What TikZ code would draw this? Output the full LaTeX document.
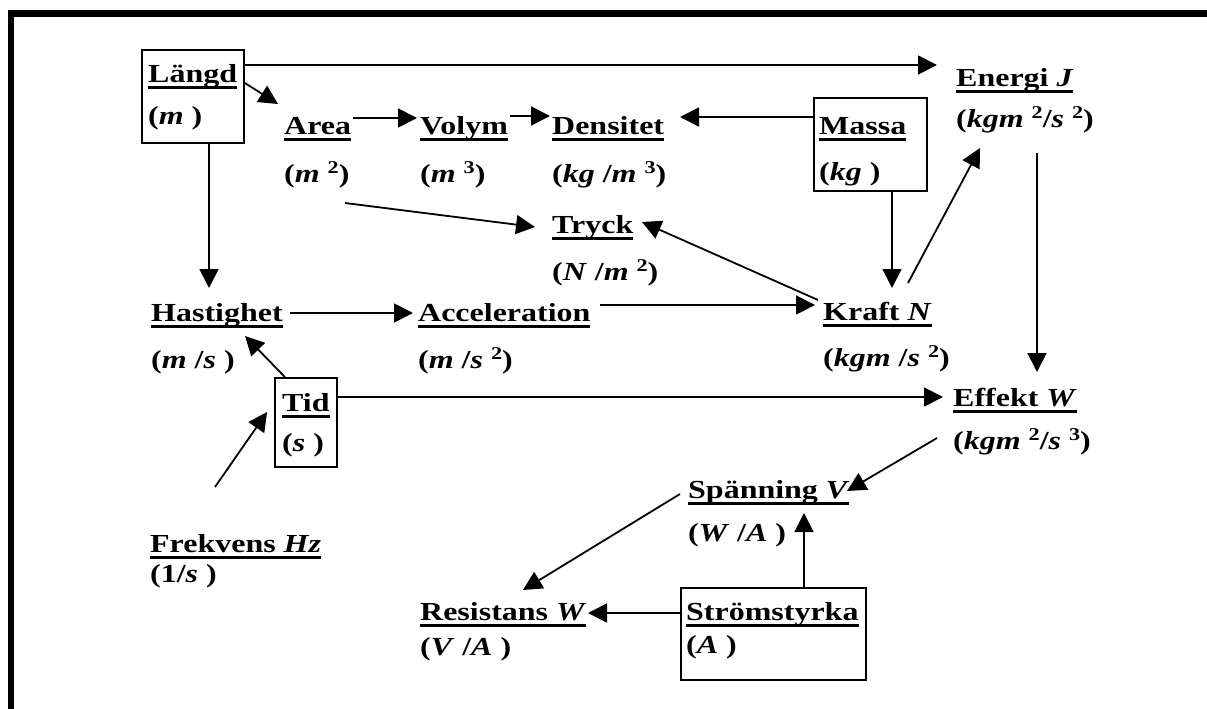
\documentclass[tikz,border=0pt]{standalone}
\usepackage{fontspec}
\setmainfont{Liberation Serif}[FakeStretch=1.23]
\usetikzlibrary{arrows.meta}
\newcommand\uln[1]{\setbox0\hbox{#1}\rlap{\rule[-6.5pt]{\wd0}{3pt}}\box0}
\newcommand\supx[1]{\raisebox{8.5pt}{\fontsize{18}{18}\selectfont #1}}
\begin{document}
\begin{tikzpicture}[x=1pt,y=-1pt,
  txt/.style={anchor=base west, inner sep=0pt, font=\fontsize{26}{30}\selectfont\bfseries},
  boxst/.style={draw, line width=1.8pt, inner sep=0pt},
  arr/.style={line width=1.8pt, -{Triangle[length=19pt,width=19pt]}}]
\useasboundingbox (0,0) rectangle (1207,709);
% border
\fill (8,10) rectangle (1207,17);
\fill (8,10) rectangle (13.5,709);
% boxes
\node[boxst, minimum width=102pt, minimum height=93pt] (langdbox) at (193,96.5) {};
\node[boxst, minimum width=113pt, minimum height=93pt] (massabox) at (870.5,144.5) {};
\node[boxst, minimum width=62pt, minimum height=89pt] (tidbox) at (306,422.5) {};
\node[boxst, minimum width=185pt, minimum height=92pt] (strombox) at (773.5,634) {};
% texts
\node[txt] (langd) at (148,82) {\uln{Längd}};
\node[txt] (langdU) at (148,124) {(\textit{m} )};
\node[txt] (area) at (284,134) {\uln{Area}};
\node[txt] (areaU) at (284,182) {(\textit{m} \supx{2})};
\node[txt] (volym) at (420,134) {\uln{Volym}};
\node[txt] (volymU) at (420,182) {(\textit{m} \supx{3})};
\node[txt] (densitet) at (552,134) {\uln{Densitet}};
\node[txt] (densitetU) at (552,182) {(\textit{kg} /\textit{m} \supx{3})};
\node[txt] (massa) at (819,134) {\uln{Massa}};
\node[txt] (massaU) at (819,180) {(\textit{kg} )};
\node[txt] (energi) at (956,86) {\uln{Energi \textit{J}}};
\node[txt] (energiU) at (956,127) {(\textit{kgm} \supx{2}/\textit{s} \supx{2})};
\node[txt] (tryck) at (552,233) {\uln{Tryck}};
\node[txt] (tryckU) at (552,280) {(\textit{N} /\textit{m} \supx{2})};
\node[txt] (hast) at (151,321) {\uln{Hastighet}};
\node[txt] (hastU) at (151,368) {(\textit{m} /\textit{s} )};
\node[txt] (acc) at (418,321) {\uln{Acceleration}};
\node[txt] (accU) at (418,368) {(\textit{m} /\textit{s} \supx{2})};
\node[txt] (kraft) at (823,320) {\uln{Kraft \textit{N}}};
\node[txt] (kraftU) at (823,366) {(\textit{kgm} /\textit{s} \supx{2})};
\node[txt] (tid) at (282,411) {\uln{Tid}};
\node[txt] (tidU) at (282,451) {(\textit{s} )};
\node[txt] (effekt) at (953,406) {\uln{Effekt \textit{W}}};
\node[txt] (effektU) at (953,449) {(\textit{kgm} \supx{2}/\textit{s} \supx{3})};
\node[txt] (frek) at (150,552) {\uln{Frekvens \textit{Hz}}};
\node[txt] (frekU) at (150,582) {(1/\textit{s} )};
\node[txt] (spanning) at (688,498) {\uln{Spänning \textit{V}}};
\node[txt] (spanningU) at (688,541) {(\textit{W} /\textit{A} )};
\node[txt] (strom) at (686,620) {\uln{Strömstyrka}};
\node[txt] (stromU) at (686,653) {(\textit{A} )};
\node[txt] (resist) at (420,620) {\uln{Resistans \textit{W}}};
\node[txt] (resistU) at (420,655) {(\textit{V} /\textit{A} )};
% connectors
\draw[arr] ([shift={(0,-31.5)}]langdbox.east) -- ([shift={(-19,-21)}]energi.base west);
\draw[arr] ([shift={(0,-13.5)}]langdbox.east) -- ([shift={(-6,-30)}]area.base west);
\draw[arr] ([shift={(16,0)}]langdbox.south) -- ([shift={(58,-33)}]hast.base west);
\draw[arr] ([shift={(69,-16)}]area.base west) -- ([shift={(-3,-16)}]volym.base west);
\draw[arr] ([shift={(90,-18)}]volym.base west) -- ([shift={(-2,-18)}]densitet.base west);
\draw[arr] ([shift={(0,-27.5)}]massabox.west) -- ([shift={(128,-17)}]densitet.base west);
\draw[arr] ([shift={(61,21)}]areaU.base west) -- ([shift={(-17,-6)}]tryck.base west);
\draw[arr] ([shift={(-5,-20)}]kraft.base west) -- ([shift={(90,-11)}]tryck.base west);
\draw[arr] ([shift={(182,-16)}]acc.base west) -- ([shift={(-8,-15)}]kraft.base west);
\draw[arr] ([shift={(21.5,0)}]massabox.south) -- ([shift={(69,-32)}]kraft.base west);
\draw[arr] ([shift={(85,-37)}]kraft.base west) -- ([shift={(24,21)}]energiU.base west);
\draw[arr] ([shift={(81,26)}]energiU.base west) -- ([shift={(84,-34)}]effekt.base west);
\draw[arr] ([shift={(139,-8)}]hast.base west) -- ([shift={(-5,-8)}]acc.base west);
\draw[arr] ([shift={(-21,0)}]tidbox.north) -- ([shift={(94,-32)}]hastU.base west);
\draw[arr] ([shift={(65,-65)}]frek.base west) -- ([shift={(-7,-10.5)}]tidbox.west);
\draw[arr] ([shift={(0,-25.5)}]tidbox.east) -- ([shift={(-10,-9)}]effekt.base west);
\draw[arr] ([shift={(-16,-11)}]effektU.base west) -- ([shift={(159,-7)}]spanning.base west);
\draw[arr] ([shift={(-8,-4)}]spanning.base west) -- ([shift={(103,-30)}]resist.base west);
\draw[arr] ([shift={(30.5,0)}]strombox.north) -- ([shift={(116,-28)}]spanningU.base west);
\draw[arr] ([shift={(0,-21)}]strombox.west) -- ([shift={(168,-7)}]resist.base west);
\end{tikzpicture}
\end{document}
